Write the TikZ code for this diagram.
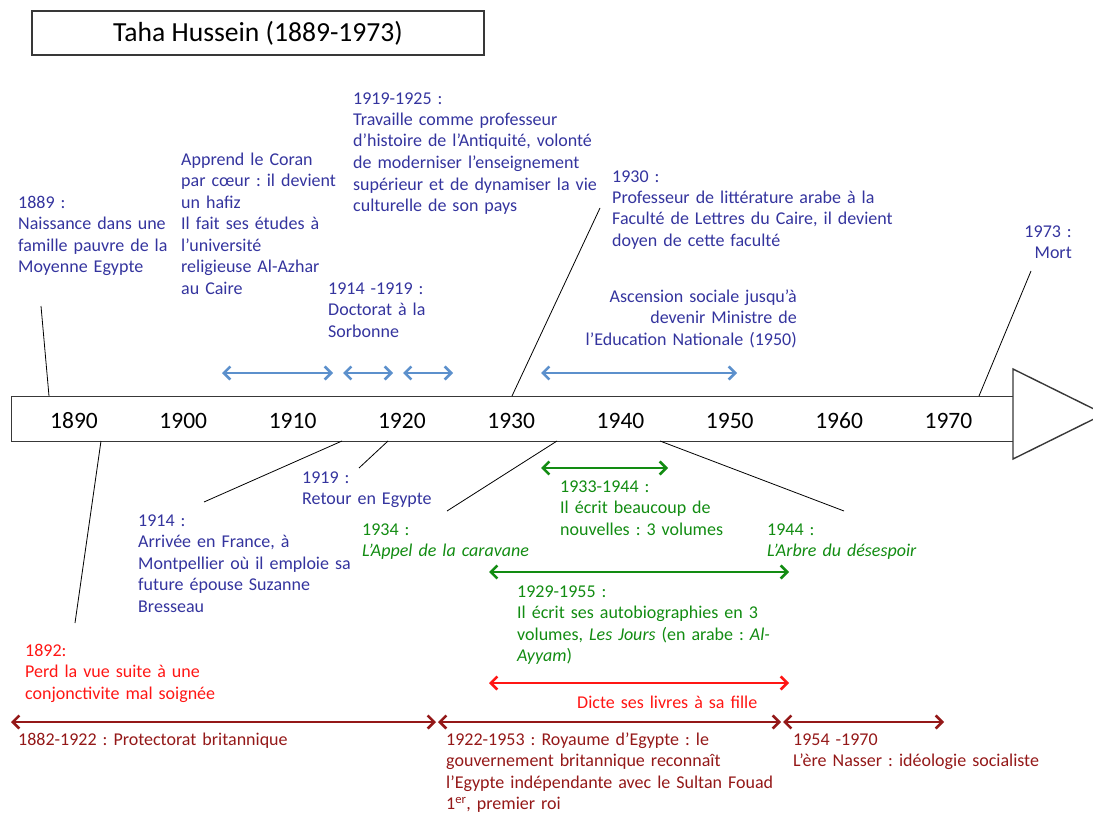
\documentclass[tikz,border=0pt]{standalone}
\usepackage{fontspec}
\setmainfont{Carlito}
\usepackage{xcolor}
\usetikzlibrary{arrows.meta}
\frenchspacing
\definecolor{evtblue}{RGB}{52,52,158}
\definecolor{spanblue}{RGB}{92,144,204}
\definecolor{evtgreen}{RGB}{18,140,18}
\definecolor{evtred}{RGB}{255,22,20}
\definecolor{evtbrown}{RGB}{148,24,24}

\begin{document}
\begin{tikzpicture}[x=1pt,y=-1pt,
		txt/.style={anchor=base west, inner sep=0pt, text width=430pt, align=left, font=\fontsize{18}{21.5}\selectfont},
		rtxt/.style={txt, anchor=base east, align=right, text width=320pt},
		frame/.style={draw=black!78, line width=1.4pt},
		year/.style={inner sep=0pt, font=\fontsize{23.5}{28}\selectfont},
		link/.style={black, line width=0.8pt},
		span/.style={<->, >={Straight Barb[length=6.5pt,width=13pt,line width=2.6pt]}},
		bspan/.style={span, spanblue, line width=1.4pt},
		gspan/.style={span, evtgreen, line width=1.8pt},
		rspan/.style={span, evtred, line width=1.4pt},
		kspan/.style={span, evtbrown, line width=1.4pt}]
		\useasboundingbox (0,0) rectangle (1093,816);

		\node[frame, minimum width=452pt, minimum height=44pt, inner sep=0pt, font=\fontsize{27.6}{32}\selectfont] (title) at (258,33) {Taha Hussein (1889-1973)};

		\node[frame, fill=white, minimum width=1002pt, minimum height=45pt, inner sep=0pt, anchor=north west] (axis) at (11,396) {};
		\draw[frame, fill=white] (1013,369) -- (1104,414) -- (1013,459) -- cycle;
		\node[year] (y1890) at (74,420.5) {1890};
		\node[year] (y1900) at (183.3,420.5) {1900};
		\node[year] (y1910) at (292.6,420.5) {1910};
		\node[year] (y1920) at (401.9,420.5) {1920};
		\node[year] (y1930) at (511.2,420.5) {1930};
		\node[year] (y1940) at (620.5,420.5) {1940};
		\node[year] (y1950) at (729.8,420.5) {1950};
		\node[year] (y1960) at (839.1,420.5) {1960};
		\node[year] (y1970) at (948.4,420.5) {1970};

		\node[txt, evtblue] (n1889) at (18,208) {1889 :\\Naissance dans une\\famille pauvre de la\\Moyenne Egypte};
		\node[txt, evtblue] (coran) at (181,165) {Apprend le Coran\\par cœur : il devient\\un hafiz\\Il fait ses études à\\l’université\\religieuse Al-Azhar\\au Caire};
		\node[txt, evtblue] (prof) at (353,104) {1919-1925 :\\Travaille comme professeur\\d’histoire de l’Antiquité, volonté\\de moderniser l’enseignement\\supérieur et de dynamiser la vie\\culturelle de son pays};
		\node[txt, evtblue] (doctorat) at (328,294) {1914 -1919 :\\Doctorat à la\\Sorbonne};
		\node[txt, evtblue] (n1930) at (612,182) {1930 :\\Professeur de littérature arabe à la\\Faculté de Lettres du Caire, il devient\\doyen de cette faculté};
		\node[rtxt, evtblue] (ministre) at (797,302) {Ascension sociale jusqu’à\\devenir Ministre de\\l’Education Nationale (1950)};
		\node[rtxt, evtblue] (n1973) at (1072,237) {1973 :\\Mort};
		\node[txt, evtblue] (retour) at (302,483) {1919 :\\Retour en Egypte};
		\node[txt, evtblue] (france) at (138,526) {1914 :\\Arrivée en France, à\\Montpellier où il emploie sa\\future épouse Suzanne\\Bresseau};
		\node[txt, evtred] (vue) at (25,656) {1892:\\Perd la vue suite à une\\conjonctivite mal soignée};
		\node[txt, evtgreen] (appel) at (362,535) {1934 :\\\textit{L’Appel de la caravane}};
		\node[txt, evtgreen] (nouvelles) at (560,492) {1933-1944 :\\Il écrit beaucoup de\\nouvelles : 3 volumes};
		\node[txt, evtgreen] (arbre) at (767,535) {1944 :\\\textit{L’Arbre du désespoir}};
		\node[txt, evtgreen] (jours) at (517,597) {1929-1955 :\\Il écrit ses autobiographies en 3\\volumes, \textit{Les Jours} (en arabe : \textit{Al-}\\\textit{Ayyam})};
		\node[txt, evtred] (dicte) at (577,708) {Dicte ses livres à sa fille};
		\node[txt, evtbrown] (protect) at (18,745) {1882-1922 : Protectorat britannique};
		\node[txt, evtbrown] (royaume) at (446,745) {1922-1953 : Royaume d’Egypte : le\\gouvernement britannique reconnaît\\l’Egypte indépendante avec le Sultan Fouad\\1\textsuperscript{er}, premier roi};
		\node[txt, evtbrown] (nasser) at (793,745) {1954 -1970\\L’ère Nasser : idéologie socialiste};

		\coordinate (a1889) at (49,396); \coordinate (e1889) at (41,306);
		\coordinate (a1930) at (512,396); \coordinate (e1930) at (600,208);
		\coordinate (a1973) at (979,396); \coordinate (e1973) at (1031,271);
		\coordinate (a1892) at (101,441); \coordinate (e1892) at (75,623);
		\coordinate (a1914) at (342,441); \coordinate (e1914) at (204,502);
		\coordinate (a1919) at (388,441); \coordinate (e1919) at (359,468);
		\coordinate (a1934) at (557,441); \coordinate (e1934) at (447,511);
		\coordinate (a1944) at (660,441); \coordinate (e1944) at (844,511);
		\draw[link] (a1889) -- (e1889);
		\draw[link] (a1930) -- (e1930);
		\draw[link] (a1973) -- (e1973);
		\draw[link] (a1892) -- (e1892);
		\draw[link] (a1914) -- (e1914);
		\draw[link] (a1919) -- (e1919);
		\draw[link] (a1934) -- (e1934);
		\draw[link] (a1944) -- (e1944);

		\coordinate (coranL) at (222,373); \coordinate (coranR) at (333,373);
		\coordinate (docL) at (343,373); \coordinate (docR) at (393,373);
		\coordinate (profL) at (403,373); \coordinate (profR) at (453,373);
		\coordinate (minL) at (541,373); \coordinate (minR) at (737,373);
		\coordinate (nouvL) at (541,468); \coordinate (nouvR) at (668,468);
		\coordinate (joursL) at (489,572); \coordinate (joursR) at (789,572);
		\coordinate (dicteL) at (489,683); \coordinate (dicteR) at (789,683);
		\coordinate (protL) at (11,722); \coordinate (protR) at (436,722);
		\coordinate (royL) at (438,722); \coordinate (royR) at (781,722);
		\coordinate (nasL) at (783,722); \coordinate (nasR) at (944,722);
		\draw[bspan] (coranL) -- (coranR);
		\draw[bspan] (docL) -- (docR);
		\draw[bspan] (profL) -- (profR);
		\draw[bspan] (minL) -- (minR);
		\draw[gspan] (nouvL) -- (nouvR);
		\draw[gspan] (joursL) -- (joursR);
		\draw[rspan] (dicteL) -- (dicteR);
		\draw[kspan] (protL) -- (protR);
		\draw[kspan] (royL) -- (royR);
		\draw[kspan] (nasL) -- (nasR);
	\end{tikzpicture}
\end{document}
